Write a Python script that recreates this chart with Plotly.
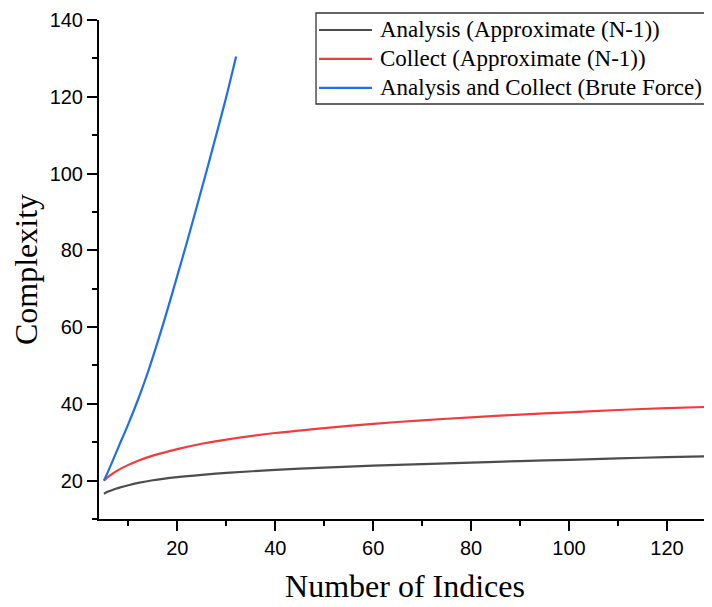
import plotly.graph_objects as go

# Values
analysis_x = [5, 6, 7, 8, 10, 12, 15, 20, 25, 30, 40, 50, 60, 70, 80, 90, 100, 110, 120, 128]
analysis_y = [16.6, 17.2, 17.7, 18.1, 18.8, 19.4, 20.1, 20.9, 21.5, 22.0, 22.8, 23.4, 23.9, 24.3, 24.7, 25.1, 25.4, 25.8, 26.1, 26.3]

collect_x = [5, 6, 7, 8, 10, 12, 15, 20, 25, 30, 40, 50, 60, 70, 80, 90, 100, 110, 120, 128]
collect_y = [20.0, 21.1, 22.0, 22.8, 24.1, 25.2, 26.5, 28.2, 29.6, 30.7, 32.4, 33.7, 34.8, 35.7, 36.5, 37.2, 37.8, 38.4, 38.9, 39.2]

brute_x = [5, 6, 8, 10, 12, 14, 16, 18, 20, 22, 24, 26, 28, 30, 32]
brute_y = [20.0, 22.8, 28.8, 34.8, 41.2, 48.3, 56.2, 64.6, 73.4, 82.3, 91.5, 100.8, 110.3, 120.0, 130.5]

series_names = ["Analysis (Approximate (N-1))", "Collect (Approximate (N-1))", "Analysis and Collect (Brute Force)"]
series_colors = ["#4d4d4d", "#f03c3c", "#1f6fe8"]

x_tick_vals = [20, 40, 60, 80, 100, 120]
y_tick_vals = [20, 40, 60, 80, 100, 120, 140]

fig = go.Figure()
for xs, ys, name, col in zip([analysis_x, collect_x, brute_x],
                             [analysis_y, collect_y, brute_y],
                             series_names, series_colors):
    fig.add_trace(go.Scatter(x=xs, y=ys, mode="lines", name=name, showlegend=False,
                             line=dict(color=col, width=2.2, shape="spline", smoothing=0.8)))

axis_font = dict(family="Liberation Sans, Arial, sans-serif", size=20, color="black")
title_font = dict(family="Liberation Serif, Times New Roman, serif", size=32, color="black")
legend_font = dict(family="Liberation Serif, Times New Roman, serif", size=23, color="black")

# Legend box drawn in paper coordinates (framed, top-right, like the original)
LEG_X0, LEG_X1 = 0.3546, 0.9967
LEG_Y0, LEG_Y1 = 0.8317, 1.014
SAMPLE_X0, SAMPLE_X1 = 0.3595, 0.4461
TEXT_X = 0.4559
ROW_Y0, ROW_STEP = 0.980, 0.0581

shapes = [dict(type="rect", xref="paper", yref="paper", x0=LEG_X0, x1=LEG_X1, y0=LEG_Y0, y1=LEG_Y1,
               line=dict(color="#333333", width=1.3), fillcolor="white", layer="above")]
annotations = []
for i, (name, col) in enumerate(zip(series_names, series_colors)):
    yy = ROW_Y0 - i * ROW_STEP
    shapes.append(dict(type="line", xref="paper", yref="paper", x0=SAMPLE_X0, x1=SAMPLE_X1,
                       y0=yy, y1=yy, line=dict(color=col, width=2.2), layer="above"))
    annotations.append(dict(text=name, xref="paper", yref="paper", x=TEXT_X, y=yy,
                            xanchor="left", yanchor="middle", showarrow=False, font=legend_font))

# page body has an 8px margin, so the figure is 8px smaller than the window
fig.update_layout(
    width=704, height=599,
    margin=dict(l=91, r=1, t=12, b=88),
    paper_bgcolor="white", plot_bgcolor="white",
    showlegend=False,
    shapes=shapes, annotations=annotations,
)

fig.update_xaxes(
    range=[4, 129], showgrid=False, zeroline=False,
    showline=True, linecolor="black", linewidth=2,
    ticks="outside", ticklen=10, tickwidth=2, tickcolor="black",
    tickvals=x_tick_vals, tickfont=axis_font,
    minor=dict(ticks="outside", ticklen=5, tickwidth=2, tickcolor="black", dtick=10, tick0=0),
    title=dict(text="Number of Indices", font=title_font, standoff=17),
)
fig.update_yaxes(
    range=[10, 140], showgrid=False, zeroline=False,
    showline=True, linecolor="black", linewidth=2,
    ticks="outside", ticklen=10, tickwidth=2, tickcolor="black",
    tickvals=y_tick_vals, tickfont=axis_font,
    minor=dict(ticks="outside", ticklen=5, tickwidth=2, tickcolor="black", dtick=10, tick0=0),
    title=dict(text="Complexity", font=title_font, standoff=4),
)

fig.write_html("out.html")
